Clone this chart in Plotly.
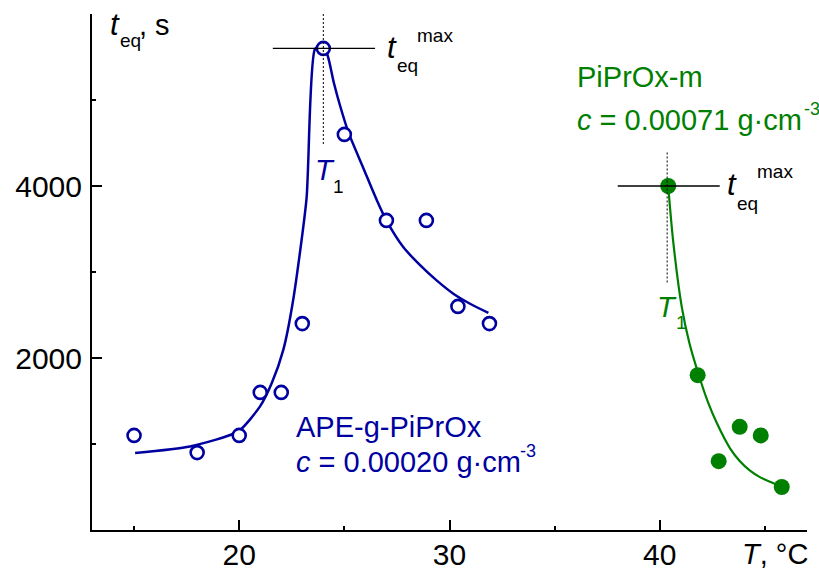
import plotly.graph_objects as go

# ---------------- data ----------------
# APE-g-PiPrOx, c = 0.00020 g/cm3 (open circles)
blue_T = [15, 18, 20, 21, 22, 23, 24, 25, 27, 28.9, 30.4, 31.9]
blue_t = [1100, 900, 1100, 1600, 1600, 2400, 5600, 4600, 3600, 3600, 2600, 2400]
# PiPrOx-m, c = 0.00071 g/cm3 (filled circles)
green_T = [40.4, 41.8, 42.8, 43.8, 44.8, 45.8]
green_t = [4000, 1800, 800, 1200, 1100, 500]

# fitted curves, points
blue_rise_T = [15.05, 17.66, 19.96, 20.99, 21.55, 22.1, 22.57, 23.2, 23.6, 23.95]
blue_rise_t = [895, 972, 1147, 1437, 1709, 2097, 2680, 3850, 5590, 5640]
blue_fall_T = [23.95, 24.2, 24.5, 24.8, 25.2, 25.9, 26.5, 27.0, 27.8, 28.6, 29.4, 30.2, 31.0, 31.85]
blue_fall_t = [5640, 5520, 5200, 4930, 4620, 4210, 3860, 3600, 3290, 3080, 2900, 2745, 2628, 2525]
green_fit_T = [40.4, 40.64, 41.04, 41.4, 41.83, 42.3, 42.7, 43.34, 43.81, 44.29, 44.76, 45.3, 45.79]
green_fit_t = [4000, 3350, 2600, 2180, 1820, 1480, 1250, 950, 800, 690, 615, 555, 505]

# t_eq max / T1 markers
blue_peak_T, blue_peak_t = 24.0, 5600
green_peak_T, green_peak_t = 40.35, 4000

x_ticks = [20, 30, 40]
x_minor = [15, 25, 35, 45]
y_ticks = [2000, 4000]
y_minor = [1000, 3000, 5000]

# ---------------- styling ----------------
BLUE = "#0000A0"
GREEN = "#008000"
BLACK = "#000000"
FONT = "Liberation Sans, Arial, sans-serif"
W, H = 819, 575
L, R, T, B = 92, 12, 14, 45
X0, X1, Y0, Y1 = 13, 47, 0, 6000


def px2paper_x(px):
    return (px - L) / (W - L - R)


def py2paper_y(py):
    return 1 - (py - T) / (H - T - B)


fig = go.Figure()

# fitted lines
for xs, ys, col, w, sm in [(blue_rise_T, blue_rise_t, BLUE, 2.5, 0.6),
                           (blue_fall_T, blue_fall_t, BLUE, 2.5, 0.8),
                           (green_fit_T, green_fit_t, GREEN, 2.2, 0.8)]:
    fig.add_trace(go.Scatter(x=xs, y=ys, mode="lines",
                             line=dict(color=col, width=w, shape="spline", smoothing=sm),
                             hoverinfo="skip", showlegend=False))

# crosshair lines
fig.add_shape(type="line", x0=blue_peak_T - 2.4, x1=blue_peak_T + 2.46,
              y0=blue_peak_t, y1=blue_peak_t, line=dict(color=BLACK, width=1.3))
fig.add_shape(type="line", x0=blue_peak_T, x1=blue_peak_T, y0=6000, y1=4480,
              line=dict(color=BLACK, width=1, dash="2px,2px"))
fig.add_shape(type="line", x0=green_peak_T - 2.35, x1=green_peak_T + 2.5,
              y0=green_peak_t, y1=green_peak_t, line=dict(color=BLACK, width=1.3))
fig.add_shape(type="line", x0=green_peak_T, x1=green_peak_T, y0=4390, y1=2875,
              line=dict(color=BLACK, width=1, dash="2px,2px"))

# markers
fig.add_trace(go.Scatter(x=blue_T, y=blue_t, mode="markers",
                         marker=dict(symbol="circle", size=13, color="white",
                                     line=dict(color=BLUE, width=2.6)),
                         showlegend=False))
fig.add_trace(go.Scatter(x=green_T, y=green_t, mode="markers",
                         marker=dict(symbol="circle", size=16, color=GREEN,
                                     line=dict(width=0)),
                         showlegend=False))

annotations = []


def label(text, left, baseline, size, color):
    annotations.append(dict(
        x=px2paper_x(left), y=py2paper_y(baseline - 0.35 * size),
        xref="paper", yref="paper",
        text=text, showarrow=False, xanchor="left", yanchor="middle",
        borderpad=0, font=dict(size=size, color=color, family=FONT)))


# y-axis title
label("<i>t</i>", 109, 35, 31, BLACK)
label("eq", 119, 47, 19, BLACK)
label(", s", 138, 35, 29, BLACK)
# blue t_eq max
label("<i>t</i>", 386, 58, 31, BLACK)
label("eq", 396, 72, 19, BLACK)
label("max", 416, 42, 19, BLACK)
# green t_eq max
label("<i>t</i>", 726, 195, 31, BLACK)
label("eq", 736, 210, 19, BLACK)
label("max", 756, 178, 19, BLACK)
# T1 labels
label("<i>T</i>", 314, 180, 29, BLUE)
label("1", 332, 193, 19, BLACK)
label("<i>T</i>", 656, 317, 29, GREEN)
label("1", 675, 329, 19, GREEN)
# series labels
label("APE-g-PiPrOx", 295, 437, 29, BLUE)
label("<i>c</i> = 0.00020 g·cm", 295, 472, 29, BLUE)
label("-3", 519, 457, 18, BLUE)
label("PiPrOx-m", 576, 87, 29, GREEN)
label("<i>c</i> = 0.00071 g·cm", 576, 130, 29, GREEN)
label("-3", 803, 115, 18, GREEN)
# x-axis title
label("<i>T</i>, °C", 741, 564, 29, BLACK)

axis_common = dict(showline=True, linewidth=2, linecolor=BLACK, showgrid=False,
                   zeroline=False, ticks="inside", ticklen=10, tickwidth=2,
                   tickcolor=BLACK, automargin=False,
                   tickfont=dict(size=30, color=BLACK, family=FONT))

fig.update_layout(
    width=W, height=H,
    margin=dict(l=L, r=R, t=T, b=B, pad=0),
    paper_bgcolor="white", plot_bgcolor="white",
    font=dict(family=FONT, color=BLACK),
    xaxis=dict(range=[X0, X1], tickmode="array", tickvals=x_ticks,
               ticktext=[str(v) for v in x_ticks],
               minor=dict(tickmode="array", tickvals=x_minor, ticks="inside",
                          ticklen=4, tickwidth=2, tickcolor=BLACK, showgrid=False),
               ticklabelstandoff=-3, **axis_common),
    yaxis=dict(range=[Y0, Y1], tickmode="array", tickvals=y_ticks,
               ticktext=[str(v) for v in y_ticks],
               minor=dict(tickmode="array", tickvals=y_minor, ticks="inside",
                          ticklen=4, tickwidth=2, tickcolor=BLACK, showgrid=False),
               ticklabelstandoff=2, **axis_common),
    annotations=annotations,
    showlegend=False,
)

fig.write_html("out.html")
